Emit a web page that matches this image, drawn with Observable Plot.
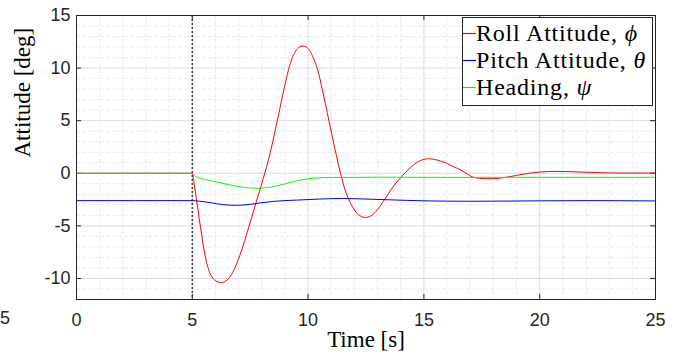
<!DOCTYPE html>
<html>
<head>
<meta charset="utf-8">
<script src="https://cdn.jsdelivr.net/npm/d3@7"></script>
<script src="https://cdn.jsdelivr.net/npm/@observablehq/plot@0.6"></script>
<style>
  body { margin: 0; background: #fff; }
  #wrap { position: relative; width: 681px; height: 364px; overflow: hidden; }
  #legend {
    position: absolute; left: 462px; top: 17px; width: 189px; height: 85px;
    border: 1px solid #222; background: #fff;
    font-family: "Liberation Serif", serif; font-size: 24px; letter-spacing: 0.8px; color: #000;
    padding-top: 2px; box-sizing: content-box;
  }
  .row { height: 27px; line-height: 27px; white-space: nowrap; display: flex; align-items: center; }
  .sw { display: block; width: 13px; height: 3px; flex: none; }
  .g { font-style: italic; }
  #stray { position: absolute; left: 0px; top: 308px; font: 18px "Liberation Sans", Arial, sans-serif; color: #262626; }
</style>
</head>
<body>
<div id="wrap"></div>
<script>
// Time axis [s] and attitude angles [deg]
const rollT = [0, 5, 5.1, 5.2, 5.3, 5.4, 5.5, 5.6, 5.72, 5.85, 6.0, 6.26, 6.5, 6.7, 6.9, 7.1, 7.4, 7.75, 8.05, 8.37, 8.67, 8.97, 9.15, 9.32, 9.47, 9.62, 9.77, 9.92, 10.07, 10.22, 10.42, 10.6, 10.9, 11.15, 11.4, 11.6, 11.76, 12.0, 12.25, 12.48, 12.75, 13.0, 13.3, 13.6, 14.0, 14.4, 14.8, 15.2, 15.72, 16.2, 16.6, 16.9, 17.1, 17.4, 17.8, 18.2, 18.5, 19.0, 19.5, 20.0, 20.75, 21.5, 22.5, 23.5, 25];
const rollV = [0, 0, -1.3, -2.8, -4.3, -5.8, -7.2, -8.3, -9.25, -9.85, -10.2, -10.4, -10.15, -9.6, -8.7, -7.5, -5.4, -2.8, -0.6, 2.0, 5.0, 8.1, 9.8, 11.0, 11.65, 12.0, 12.1, 12.0, 11.65, 11.0, 9.8, 8.1, 5.0, 2.4, 0.0, -1.6, -2.5, -3.5, -4.05, -4.2, -4.0, -3.45, -2.5, -1.5, -0.4, 0.5, 1.15, 1.38, 1.16, 0.72, 0.3, -0.1, -0.35, -0.48, -0.52, -0.48, -0.4, -0.2, -0.02, 0.12, 0.18, 0.14, 0.06, 0.02, 0.02];

const pitchT = [0, 5, 5.3, 5.8, 6.3, 6.87, 7.5, 8.0, 8.5, 9.5, 10.5, 11.5, 12.5, 13.5, 15, 17, 20, 22, 25];
const pitchV = [-2.6, -2.6, -2.65, -2.8, -2.97, -3.05, -2.95, -2.8, -2.67, -2.55, -2.45, -2.4, -2.45, -2.52, -2.62, -2.66, -2.62, -2.6, -2.63];

const headT = [0, 5, 5.1, 5.57, 6.2, 6.87, 7.4, 7.8, 8.3, 9.02, 9.6, 10.2, 11, 13, 16, 20, 25];
const headV = [0, 0, -0.25, -0.6, -0.9, -1.21, -1.38, -1.43, -1.35, -1.0, -0.68, -0.47, -0.4, -0.37, -0.39, -0.38, -0.38];

const eventTime = [5];
const xTicks = [0, 5, 10, 15, 20, 25];
const yTicks = [-10, -5, 0, 5, 10, 15];
const series = [
  {name: "Roll Attitude, ", sym: "ϕ", color: "#ff0000", t: rollT, v: rollV},
  {name: "Pitch Attitude, ", sym: "θ", color: "#0000ff", t: pitchT, v: pitchV},
  {name: "Heading, ", sym: "ψ", color: "#00ff00", t: headT, v: headV}
];

const toRows = s => s.t.map((t, i) => ({t, v: s.v[i]}));
const xMinor = d3.range(0, 26, 1).filter(d => d % 5 !== 0);
const yMinor = d3.range(-12, 16, 1).filter(d => d % 5 !== 0);
const axisColor = "#262626";
const serif = "'Liberation Serif', serif";

const chart = Plot.plot({
  width: 681,
  height: 364,
  marginLeft: 76,
  marginRight: 26,
  marginTop: 15,
  marginBottom: 65,
  style: {fontFamily: "'Liberation Sans', Arial, sans-serif", fontSize: "18px", background: "#fff"},
  x: {domain: [0, 25], axis: null},
  y: {domain: [-12, 15], axis: null},
  marks: [
    Plot.ruleX(xMinor, {stroke: "#e6e6e6", strokeWidth: 0.8, strokeDasharray: "4,2"}),
    Plot.ruleY(yMinor, {stroke: "#e6e6e6", strokeWidth: 0.8, strokeDasharray: "4,2"}),
    Plot.ruleX(xTicks, {stroke: "#dcdcdc", strokeWidth: 1}),
    Plot.ruleY(yTicks, {stroke: "#dcdcdc", strokeWidth: 1}),
    // inward tick marks on all four sides
    Plot.ruleX(xTicks, {y1: -12, y2: -12, insetTop: -5, stroke: axisColor}),
    Plot.ruleX(xTicks, {y1: 15, y2: 15, insetBottom: -5, stroke: axisColor}),
    Plot.ruleY(yTicks, {x1: 0, x2: 0, insetRight: -5, stroke: axisColor}),
    Plot.ruleY(yTicks, {x1: 25, x2: 25, insetLeft: -5, stroke: axisColor}),
    Plot.axisX(xTicks, {anchor: "bottom", label: null, tickSize: 0, tickPadding: 14, fill: axisColor, tickFormat: d => String(d)}),
    Plot.axisY(yTicks, {anchor: "left", label: null, tickSize: 0, tickPadding: 6, fill: axisColor, tickFormat: d => String(d)}),
    Plot.ruleX(eventTime, {stroke: "#404040", strokeWidth: 1.5, strokeDasharray: "2,2"}),
    ...series.map(s => Plot.line(toRows(s), {x: "t", y: "v", stroke: s.color, strokeWidth: 1, curve: "monotone-x"})),
    Plot.frame({stroke: axisColor, strokeWidth: 1}),
    Plot.text(["Time [s]"], {frameAnchor: "bottom", dy: 47, fontFamily: serif, fontSize: 23, fill: "#000"}),
    Plot.text(["Attitude [deg]"], {frameAnchor: "left", dx: -54, rotate: -90, fontFamily: serif, fontSize: 23, fill: "#000"})
  ]
});

const wrap = document.getElementById("wrap");
wrap.appendChild(chart);

const stray = document.createElement("div");
stray.id = "stray";
stray.textContent = "5";
wrap.appendChild(stray);

// legend: short coloured stroke followed by the series name
const legend = document.createElement("div");
legend.id = "legend";
const svgNS = "http://www.w3.org/2000/svg";
for (const s of series) {
  const row = document.createElement("div");
  row.className = "row";
  const sw = document.createElementNS(svgNS, "svg");
  sw.setAttribute("class", "sw");
  sw.setAttribute("width", "13");
  sw.setAttribute("height", "3");
  const ln = document.createElementNS(svgNS, "line");
  ln.setAttribute("x1", "0"); ln.setAttribute("x2", "13");
  ln.setAttribute("y1", "1.5"); ln.setAttribute("y2", "1.5");
  ln.setAttribute("stroke", s.color);
  ln.setAttribute("stroke-width", "1.2");
  sw.appendChild(ln);
  const label = document.createElement("span");
  label.textContent = s.name;
  const g = document.createElement("span");
  g.className = "g";
  g.textContent = s.sym;
  label.appendChild(g);
  row.append(sw, label);
  legend.appendChild(row);
}
wrap.appendChild(legend);
</script>
</body>
</html>
